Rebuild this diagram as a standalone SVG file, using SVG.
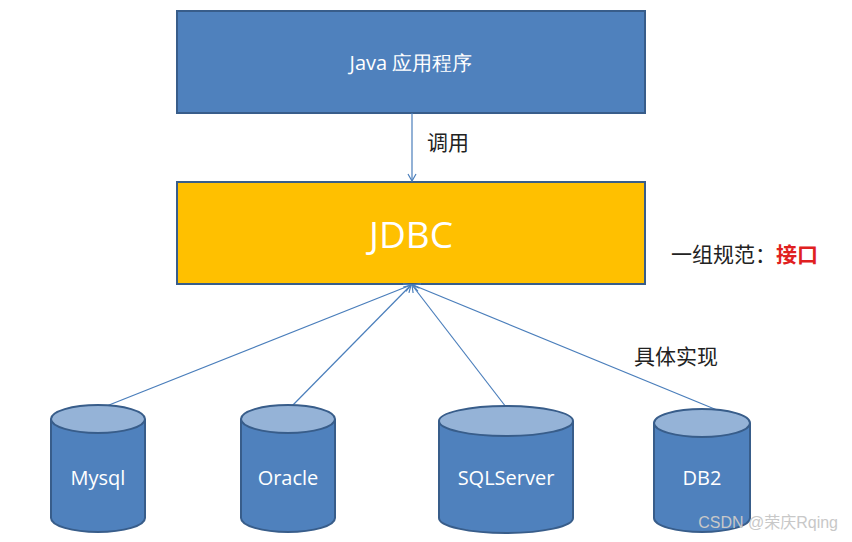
<svg xmlns="http://www.w3.org/2000/svg" width="852" height="542" viewBox="0 0 852 542">
<defs>
<marker id="ah" markerWidth="10" markerHeight="10" refX="8" refY="5" orient="auto" markerUnits="userSpaceOnUse"><path d="M1,1 L8,5 L1,9" fill="none" stroke="#4a7ebb" stroke-width="1.2"/></marker>
</defs>
<style>
.cb{fill:#4f81bd;stroke:#385d8a;stroke-width:2}
.ct{fill:#95b3d7;stroke:#385d8a;stroke-width:2}
.w{fill:#fff;font-family:"Open Sans","Liberation Sans",sans-serif;text-anchor:middle}
.k{fill:#222;font-family:"Noto Sans CJK SC",sans-serif;font-size:21px}
.c{stroke:#4a7ebb;stroke-width:1.2;fill:none;marker-end:url(#ah)}
</style>
<rect width="852" height="542" fill="#fff"/>
<g id="java"><rect x="177" y="11" width="468" height="102" fill="#4f81bd" stroke="#385d8a" stroke-width="2"/><text class="w" x="411" y="70" font-size="20" font-family="'Open Sans','Noto Sans CJK SC',sans-serif">Java 应用程序</text></g>
<g id="jdbc"><rect x="177" y="182" width="468" height="102" fill="#ffc000" stroke="#385d8a" stroke-width="2"/><text class="w" x="411" y="248" font-size="37">JDBC</text></g>
<g id="connectors">
<line class="c" x1="412" y1="113" x2="412" y2="181"/>
<line class="c" x1="104" y1="407" x2="411" y2="285"/>
<line class="c" x1="291" y1="407" x2="411" y2="285"/>
<line class="c" x1="506" y1="407" x2="412" y2="285"/>
<line class="c" x1="717" y1="410" x2="413" y2="285"/>
</g>
<text class="k" x="427" y="150">调用</text>
<text class="k" x="671" y="262">一组规范：<tspan fill="#e02020" font-weight="bold">接口</tspan></text>
<text class="k" x="634" y="364">具体实现</text>
<g id="mysql"><path class="cb" d="M51,419 V518 A47,14 0 0 0 145,518 V419"/><ellipse class="ct" cx="98" cy="419" rx="47" ry="14"/><text class="w" x="98" y="485" font-size="20">Mysql</text></g>
<g id="oracle"><path class="cb" d="M241,419 V518 A47,14 0 0 0 335,518 V419"/><ellipse class="ct" cx="288" cy="419" rx="47" ry="14"/><text class="w" x="288" y="485" font-size="20">Oracle</text></g>
<g id="sqlserver"><path class="cb" d="M439,421 V518 A67,15 0 0 0 573,518 V421"/><ellipse class="ct" cx="506" cy="421" rx="67" ry="15"/><text class="w" x="506" y="485" font-size="20">SQLServer</text></g>
<g id="db2"><path class="cb" d="M654,423 V518 A48,14 0 0 0 750,518 V423"/><ellipse class="ct" cx="702" cy="423" rx="48" ry="14"/><text class="w" x="702" y="485" font-size="20">DB2</text></g>
<text x="838" y="528" font-size="16" fill="#c8c8c8" text-anchor="end" font-family="'Liberation Sans','Noto Sans CJK SC',sans-serif">CSDN @荣庆Rqing</text>
</svg>
